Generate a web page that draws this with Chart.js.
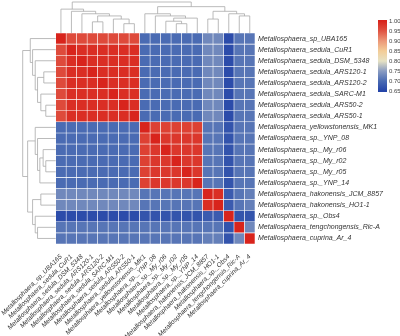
<!DOCTYPE html>
<html>
<head>
<meta charset="utf-8">
<script src="https://cdn.jsdelivr.net/npm/chart.js@4.4.1/dist/chart.umd.min.js"></script>
<style>
  html, body { margin: 0; padding: 0; background: #fff; }
</style>
</head>
<body>
<canvas id="heatChart" width="400" height="336"></canvas>
<script>
// genomes, same order for rows (top to bottom) and columns (left to right)
const genomes = [
    'Metallosphaera_sp_UBA165',
    'Metallosphaera_sedula_CuR1',
    'Metallosphaera_sedula_DSM_5348',
    'Metallosphaera_sedula_ARS120-1',
    'Metallosphaera_sedula_ARS120-2',
    'Metallosphaera_sedula_SARC-M1',
    'Metallosphaera_sedula_ARS50-2',
    'Metallosphaera_sedula_ARS50-1',
    'Metallosphaera_yellowstonensis_MK1',
    'Metallosphaera_sp._YNP_08',
    'Metallosphaera_sp._My_r06',
    'Metallosphaera_sp._My_r02',
    'Metallosphaera_sp._My_r05',
    'Metallosphaera_sp._YNP_14',
    'Metallosphaera_hakonensis_JCM_8857',
    'Metallosphaera_hakonensis_HO1-1',
    'Metallosphaera_sp._Obs4',
    'Metallosphaera_tengchongensis_Ric-A',
    'Metallosphaera_cuprina_Ar_4'
];

// ANI values, one row per genome
const aniRows = [
    [1.00, 0.96, 0.96, 0.96, 0.96, 0.96, 0.96, 0.96, 0.70, 0.70, 0.70, 0.70, 0.70, 0.70, 0.73, 0.73, 0.66, 0.71, 0.71],
    [0.96, 1.00, 0.99, 0.99, 0.99, 0.99, 0.99, 0.99, 0.70, 0.70, 0.70, 0.70, 0.70, 0.70, 0.73, 0.73, 0.66, 0.71, 0.71],
    [0.96, 0.99, 1.00, 0.99, 0.99, 0.99, 0.99, 0.99, 0.70, 0.70, 0.70, 0.70, 0.70, 0.70, 0.73, 0.73, 0.66, 0.71, 0.71],
    [0.96, 0.99, 0.99, 1.00, 0.99, 0.99, 0.99, 0.99, 0.70, 0.70, 0.70, 0.70, 0.70, 0.70, 0.73, 0.73, 0.66, 0.71, 0.71],
    [0.96, 0.99, 0.99, 0.99, 1.00, 0.99, 0.99, 0.99, 0.70, 0.70, 0.70, 0.70, 0.70, 0.70, 0.73, 0.73, 0.66, 0.71, 0.71],
    [0.96, 0.99, 0.99, 0.99, 0.99, 1.00, 0.99, 0.99, 0.70, 0.70, 0.70, 0.70, 0.70, 0.70, 0.73, 0.73, 0.66, 0.71, 0.71],
    [0.96, 0.99, 0.99, 0.99, 0.99, 0.99, 1.00, 0.99, 0.70, 0.70, 0.70, 0.70, 0.70, 0.70, 0.73, 0.73, 0.66, 0.71, 0.71],
    [0.96, 0.99, 0.99, 0.99, 0.99, 0.99, 0.99, 1.00, 0.70, 0.70, 0.70, 0.70, 0.70, 0.70, 0.73, 0.73, 0.66, 0.71, 0.71],
    [0.70, 0.70, 0.70, 0.70, 0.70, 0.70, 0.70, 0.70, 1.00, 0.97, 0.97, 0.97, 0.97, 0.97, 0.71, 0.71, 0.67, 0.71, 0.71],
    [0.70, 0.70, 0.70, 0.70, 0.70, 0.70, 0.70, 0.70, 0.97, 1.00, 0.98, 0.98, 0.98, 0.98, 0.71, 0.71, 0.67, 0.71, 0.71],
    [0.70, 0.70, 0.70, 0.70, 0.70, 0.70, 0.70, 0.70, 0.97, 0.98, 1.00, 0.98, 0.98, 0.98, 0.71, 0.71, 0.67, 0.71, 0.71],
    [0.70, 0.70, 0.70, 0.70, 0.70, 0.70, 0.70, 0.70, 0.97, 0.98, 0.98, 1.00, 0.98, 0.98, 0.71, 0.71, 0.67, 0.71, 0.71],
    [0.70, 0.70, 0.70, 0.70, 0.70, 0.70, 0.70, 0.70, 0.97, 0.98, 0.98, 0.98, 1.00, 0.98, 0.71, 0.71, 0.67, 0.71, 0.71],
    [0.70, 0.70, 0.70, 0.70, 0.70, 0.70, 0.70, 0.70, 0.97, 0.98, 0.98, 0.98, 0.98, 1.00, 0.71, 0.71, 0.67, 0.71, 0.71],
    [0.73, 0.73, 0.73, 0.73, 0.73, 0.73, 0.73, 0.73, 0.71, 0.71, 0.71, 0.71, 0.71, 0.71, 1.00, 0.99, 0.68, 0.71, 0.72],
    [0.73, 0.73, 0.73, 0.73, 0.73, 0.73, 0.73, 0.73, 0.71, 0.71, 0.71, 0.71, 0.71, 0.71, 0.99, 1.00, 0.68, 0.71, 0.72],
    [0.66, 0.66, 0.66, 0.66, 0.66, 0.66, 0.66, 0.66, 0.67, 0.67, 0.67, 0.67, 0.67, 0.67, 0.68, 0.68, 1.00, 0.67, 0.67],
    [0.71, 0.71, 0.71, 0.71, 0.71, 0.71, 0.71, 0.71, 0.71, 0.71, 0.71, 0.71, 0.71, 0.71, 0.71, 0.71, 0.67, 1.00, 0.73],
    [0.71, 0.71, 0.71, 0.71, 0.71, 0.71, 0.71, 0.71, 0.71, 0.71, 0.71, 0.71, 0.71, 0.71, 0.72, 0.72, 0.67, 0.73, 1.00]
];

// clustering merges: [child a, child b, height]; leaves 0-18, merged nodes 19+
const clusterMerges = [
    [6, 7, 0.30],
    [3, 4, 0.36],
    [5, 19, 0.45],
    [20, 21, 0.55],
    [2, 22, 0.62],
    [1, 23, 0.70],
    [0, 24, 0.77],
    [11, 12, 0.30],
    [10, 26, 0.38],
    [27, 13, 0.48],
    [9, 28, 0.55],
    [8, 29, 0.62],
    [14, 15, 0.45],
    [17, 18, 0.55],
    [16, 32, 0.62],
    [31, 33, 0.70],
    [30, 34, 0.85],
    [25, 35, 1.00]
];

// colour bar
const colorTicks = ['1.00', '0.95', '0.90', '0.85', '0.80', '0.75', '0.70', '0.65'];
const colorStops = [0.65, 0.70, 0.75, 0.80, 0.85, 0.90, 0.95, 1.00];
const stopColors = ['#2444a8', '#4a6bb3', '#8a9cc2', '#e6e2c4', '#f3cd98', '#ec9878', '#e05443', '#d8241c'];

function hexToRgb(h) {
    return [parseInt(h.slice(1, 3), 16), parseInt(h.slice(3, 5), 16), parseInt(h.slice(5, 7), 16)];
}

function aniColor(v) {
    let i = 0;
    while (i < colorStops.length - 2 && v > colorStops[i + 1]) i++;
    const t = Math.max(0, Math.min(1, (v - colorStops[i]) / (colorStops[i + 1] - colorStops[i])));
    const a = hexToRgb(stopColors[i]);
    const b = hexToRgb(stopColors[i + 1]);
    const c = a.map((x, k) => Math.round(x + (b[k] - x) * t));
    return 'rgb(' + c.join(',') + ')';
}

// dendrograms + colour bar
const extrasPlugin = {
    id: 'extras',
    afterDraw(chart) {
        const ctx = chart.ctx;
        const area = chart.chartArea;
        const xScale = chart.scales.x;
        const rowScale = chart.scales.rows;

        function drawTree(leafPos, horizontal, base, span) {
            const pos = leafPos.slice();
            const hgt = leafPos.map(() => 0);
            ctx.save();
            ctx.strokeStyle = '#a9a9a9';
            ctx.lineWidth = 0.8;
            ctx.beginPath();
            clusterMerges.forEach(([a, b, h]) => {
                const ha = base - hgt[a] * span;
                const hb = base - hgt[b] * span;
                const hm = base - h * span;
                if (horizontal) {
                    ctx.moveTo(pos[a], ha); ctx.lineTo(pos[a], hm);
                    ctx.lineTo(pos[b], hm); ctx.lineTo(pos[b], hb);
                } else {
                    ctx.moveTo(ha, pos[a]); ctx.lineTo(hm, pos[a]);
                    ctx.lineTo(hm, pos[b]); ctx.lineTo(hb, pos[b]);
                }
                pos.push((pos[a] + pos[b]) / 2);
                hgt.push(h);
            });
            ctx.stroke();
            ctx.restore();
        }

        drawTree(genomes.map((g, i) => xScale.getPixelForValue(i)), true, area.top, 31);
        drawTree(genomes.map((g, i) => rowScale.getPixelForValue(i)), false, area.left, 33);

        // colour bar
        const barX = 378, barW = 9;
        const yOf = v => 21 + (1.00 - v) / 0.05 * 10;
        const grad = ctx.createLinearGradient(0, yOf(1.005), 0, yOf(0.645));
        colorStops.forEach((s, i) => {
            grad.addColorStop((1.005 - s) / 0.36, stopColors[i]);
        });
        ctx.save();
        ctx.fillStyle = grad;
        ctx.fillRect(barX, yOf(1.005), barW, yOf(0.645) - yOf(1.005));
        ctx.fillStyle = '#444';
        ctx.font = '6px "Liberation Sans", Arial, sans-serif';
        ctx.textBaseline = 'middle';
        colorTicks.forEach(t => {
            ctx.fillText(t, barX + barW + 2, yOf(parseFloat(t)));
        });
        ctx.restore();
    }
};

const datasets = genomes.map((g, r) => ({
    label: g,
    data: genomes.map(() => 1),
    backgroundColor: aniRows[r].map(aniColor),
    borderColor: 'rgba(255,255,255,0.65)',
    borderWidth: 0.6,
    borderSkipped: false,
    barPercentage: 1,
    categoryPercentage: 1
}));

const heatCtx = document.getElementById('heatChart').getContext('2d');
const heatChart = new Chart(heatCtx, {
    type: 'bar',
    data: {
        labels: genomes,
        datasets: datasets
    },
    options: {
        responsive: false,
        animation: false,
        layout: { padding: { left: 54, top: 33, right: 0, bottom: 0 } },
        plugins: {
            legend: { display: false },
            tooltip: { enabled: false }
        },
        scales: {
            x: {
                stacked: true,
                grid: { display: false },
                border: { display: false },
                ticks: {
                    autoSkip: false,
                    minRotation: 45,
                    maxRotation: 45,
                    padding: 1,
                    color: '#333',
                    font: { family: '"Liberation Sans", Arial, sans-serif', size: 6.5, style: 'italic' }
                },
                afterFit: s => { s.height = 92; }
            },
            y: {
                stacked: true,
                min: 0,
                max: 19,
                reverse: true,
                display: false
            },
            rows: {
                type: 'category',
                labels: genomes,
                position: 'right',
                offset: true,
                grid: { display: false, drawTicks: false },
                border: { display: false },
                ticks: {
                    autoSkip: false,
                    padding: 3,
                    color: '#333',
                    font: { family: '"Liberation Sans", Arial, sans-serif', size: 7, style: 'italic' }
                },
                afterFit: s => { s.width = 145; }
            }
        }
    },
    plugins: [extrasPlugin]
});
</script>
</body>
</html>
